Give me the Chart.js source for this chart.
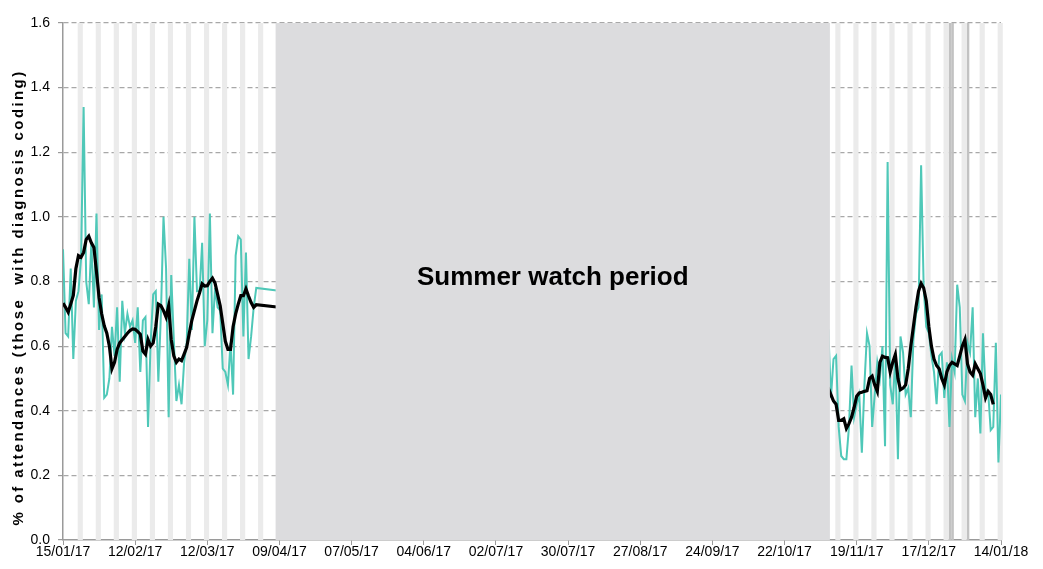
<!DOCTYPE html>
<html>
<head>
<meta charset="utf-8">
<script src="https://cdn.jsdelivr.net/npm/chart.js@4"></script>
<style>
  html, body { margin: 0; padding: 0; background: #fff; }
  #wrap { width: 1043px; height: 569px; position: relative; }
</style>
</head>
<body>
<div id="wrap"><canvas id="chart"></canvas></div>
<script>
// x axis in days since 15/01/17, one tick every 4 weeks
const tickLabels = [
  "15/01/17", "12/02/17", "12/03/17", "09/04/17", "07/05/17", "04/06/17", "02/07/17",
  "30/07/17", "27/08/17", "24/09/17", "22/10/17", "19/11/17", "17/12/17", "14/01/18"
];

// daily % of attendances, 15/01/17 onwards (day 0..75)
const earlyDaily = [
  0.90, 0.64, 0.63, 0.84, 0.56, 0.74, 0.77, 0.87, 1.34, 0.80,
  0.73, 0.92, 0.72, 1.01, 0.65, 0.76, 0.44, 0.45, 0.50, 0.66,
  0.57, 0.72, 0.49, 0.74, 0.64, 0.70, 0.66, 0.68, 0.61, 0.72,
  0.52, 0.68, 0.69, 0.35, 0.61, 0.76, 0.77, 0.49, 0.70, 1.00,
  0.84, 0.38, 0.82, 0.62, 0.43, 0.48, 0.42, 0.55, 0.61, 0.87,
  0.65, 1.00, 0.77, 0.77, 0.92, 0.60, 0.68, 1.01, 0.64, 0.78,
  0.72, 0.71, 0.53, 0.52, 0.48, 0.61, 0.45, 0.88, 0.94, 0.93,
  0.63, 0.89, 0.56, 0.63, 0.72, 0.78
];
// 7 day moving average, same days
const earlyAverage = [
  0.733, 0.720, 0.705, 0.730, 0.757, 0.840, 0.880, 0.875, 0.890, 0.930,
  0.940, 0.920, 0.905, 0.830, 0.750, 0.700, 0.663, 0.640, 0.600, 0.530,
  0.550, 0.590, 0.610, 0.620, 0.630, 0.640, 0.648, 0.653, 0.652, 0.645,
  0.637, 0.585, 0.575, 0.620, 0.600, 0.610, 0.660, 0.730, 0.725, 0.710,
  0.690, 0.725, 0.620, 0.570, 0.550, 0.560, 0.555, 0.575, 0.596, 0.640,
  0.680, 0.710, 0.740, 0.765, 0.793, 0.786, 0.787, 0.800, 0.810, 0.795,
  0.760, 0.725, 0.670, 0.615, 0.590, 0.590, 0.660, 0.700, 0.730, 0.756,
  0.756, 0.777, 0.755, 0.735, 0.720, 0.728
];
// next reported day, hidden by the summer block
const earlyEndDay = 83;
const earlyEndDaily = 0.772;
const earlyEndAverage = 0.721;

// winter period, day 297 (08/11/17) onwards
const lateStartDay = 297;
const lateDaily = [
  0.65, 0.44, 0.56, 0.57, 0.35, 0.26, 0.25, 0.25, 0.35, 0.54,
  0.38, 0.42, 0.45, 0.27, 0.48, 0.64, 0.60, 0.35, 0.45, 0.55,
  0.50, 0.60, 0.29, 1.17, 0.48, 0.42, 0.57, 0.25, 0.63, 0.58,
  0.45, 0.47, 0.38, 0.62, 0.70, 0.72, 1.16, 0.78, 0.66, 0.64,
  0.57, 0.52, 0.42, 0.57, 0.58, 0.44, 0.55, 0.35, 0.56, 0.52,
  0.79, 0.72, 0.45, 0.43, 0.61, 0.58, 0.72, 0.38, 0.50, 0.33,
  0.64, 0.46, 0.46, 0.34, 0.35, 0.61, 0.24, 0.45
];
const lateAverage = [
  0.470, 0.450, 0.430, 0.420, 0.370, 0.370, 0.375, 0.345, 0.360, 0.380,
  0.410, 0.445, 0.455, 0.457, 0.460, 0.462, 0.500, 0.507, 0.480, 0.460,
  0.550, 0.569, 0.565, 0.564, 0.520, 0.550, 0.574, 0.500, 0.465, 0.470,
  0.480, 0.530, 0.600, 0.660, 0.720, 0.770, 0.794, 0.780, 0.740, 0.660,
  0.600, 0.560, 0.540, 0.530, 0.500, 0.480, 0.520, 0.540, 0.550, 0.545,
  0.540, 0.570, 0.600, 0.620, 0.545, 0.520, 0.510, 0.545, 0.530, 0.515,
  0.480, 0.440, 0.460, 0.450, 0.420
];

// shaded periods (days)
const summerPeriod = [82.5, 297.6];
const summerLabel = "Summer watch period";
const firstSaturday = 6;       // 21/01/17
const bankHolidays = [344, 345, 351]; // 25/12, 26/12, 01/01

function toPoints(startDay, values) {
  return values.map((v, i) => ({ x: startDay + i, y: v }));
}

const dailyPoints = toPoints(0, earlyDaily)
  .concat([{ x: earlyEndDay, y: earlyEndDaily }])
  .concat(toPoints(lateStartDay, lateDaily));
const averagePoints = toPoints(0, earlyAverage)
  .concat([{ x: earlyEndDay, y: earlyEndAverage }])
  .concat(toPoints(lateStartDay, lateAverage));

const FONT = "'Liberation Sans', Arial, sans-serif";

// weekend + bank holiday columns behind the lines
const bandsPlugin = {
  id: "bands",
  beforeDatasetsDraw(chart) {
    const { ctx, chartArea, scales: { x } } = chart;
    ctx.save();
    ctx.fillStyle = "#c2c2c2";
    bankHolidays.forEach(d => {
      const x1 = x.getPixelForValue(d - 0.3);
      const x2 = x.getPixelForValue(d + 0.7);
      ctx.fillRect(x1, chartArea.top, x2 - x1, chartArea.bottom - chartArea.top);
    });
    ctx.fillStyle = "#ebebeb";
    for (let s = firstSaturday; s <= x.max; s += 7) {
      const x1 = x.getPixelForValue(s - 0.3);
      const x2 = x.getPixelForValue(s + 1.7);
      ctx.fillRect(x1, chartArea.top, x2 - x1, chartArea.bottom - chartArea.top);
    }
    ctx.restore();
  },
  afterDatasetsDraw(chart) {
    const { ctx, chartArea, scales: { x } } = chart;
    const x1 = x.getPixelForValue(summerPeriod[0]);
    const x2 = x.getPixelForValue(summerPeriod[1]);
    ctx.save();
    ctx.fillStyle = "#dcdcde";
    ctx.fillRect(x1, chartArea.top, x2 - x1, chartArea.bottom - chartArea.top);
    ctx.fillStyle = "#000";
    ctx.font = "bold 26px " + FONT;
    ctx.textAlign = "center";
    ctx.textBaseline = "middle";
    ctx.fillText(summerLabel, (x1 + x2) / 2, (chartArea.top + chartArea.bottom) / 2 - 4);
    ctx.restore();
  },
  afterDraw(chart) {
    // y axis title, letter spaced like the original
    const { ctx, chartArea } = chart;
    ctx.save();
    ctx.translate(23, (chartArea.top + chartArea.bottom) / 2 + 16);
    ctx.rotate(-Math.PI / 2);
    ctx.font = "bold 15px " + FONT;
    ctx.letterSpacing = "2.4px";
    ctx.fillStyle = "#000";
    ctx.textAlign = "center";
    ctx.textBaseline = "alphabetic";
    ctx.fillText("% of attendances (those  with diagnosis coding)", 0, 0);
    ctx.restore();
  }
};

new Chart(document.getElementById("chart"), {
  type: "line",
  data: {
    datasets: [
      {
        label: "7 day average",
        data: averagePoints,
        borderColor: "#000",
        borderWidth: 3.2,
        pointRadius: 0,
        tension: 0,
        order: 1
      },
      {
        label: "Daily",
        data: dailyPoints,
        borderColor: "#4fc8b8",
        borderWidth: 2,
        pointRadius: 0,
        tension: 0,
        order: 2
      }
    ]
  },
  options: {
    responsive: true,
    maintainAspectRatio: false,
    animation: false,
    layout: { padding: { left: 0, top: 23, right: 42, bottom: 0 } },
    plugins: {
      legend: { display: false },
      tooltip: { enabled: false }
    },
    scales: {
      x: {
        type: "linear",
        min: 0,
        max: 364,
        afterFit: s => { s.height = 29; },
        afterBuildTicks: s => {
          s.ticks = tickLabels.map((_, i) => ({ value: i * 28 }));
        },
        ticks: {
          autoSkip: false,
          maxRotation: 0,
          padding: -1,
          color: "#000",
          font: { family: FONT, size: 14 },
          callback: v => tickLabels[Math.round(v / 28)]
        },
        grid: {
          drawOnChartArea: false,
          tickLength: 5,
          tickColor: "#9a9a9a"
        },
        border: { color: "#9a9a9a", width: 1.5 }
      },
      y: {
        min: 0,
        max: 1.6,
        afterFit: s => { s.width = 63; },
        ticks: {
          stepSize: 0.2,
          padding: 8,
          color: "#000",
          font: { family: FONT, size: 14 },
          callback: v => v.toFixed(1)
        },
        grid: {
          color: c => (c.tick && c.tick.value === 0) ? "rgba(0,0,0,0)" : "#a8a8a8",
          lineWidth: 1.2,
          tickLength: 5,
          tickColor: "#9a9a9a"
        },
        border: { color: "#9a9a9a", width: 1.5, dash: [5, 3] }
      }
    }
  },
  plugins: [bandsPlugin]
});
</script>
</body>
</html>
